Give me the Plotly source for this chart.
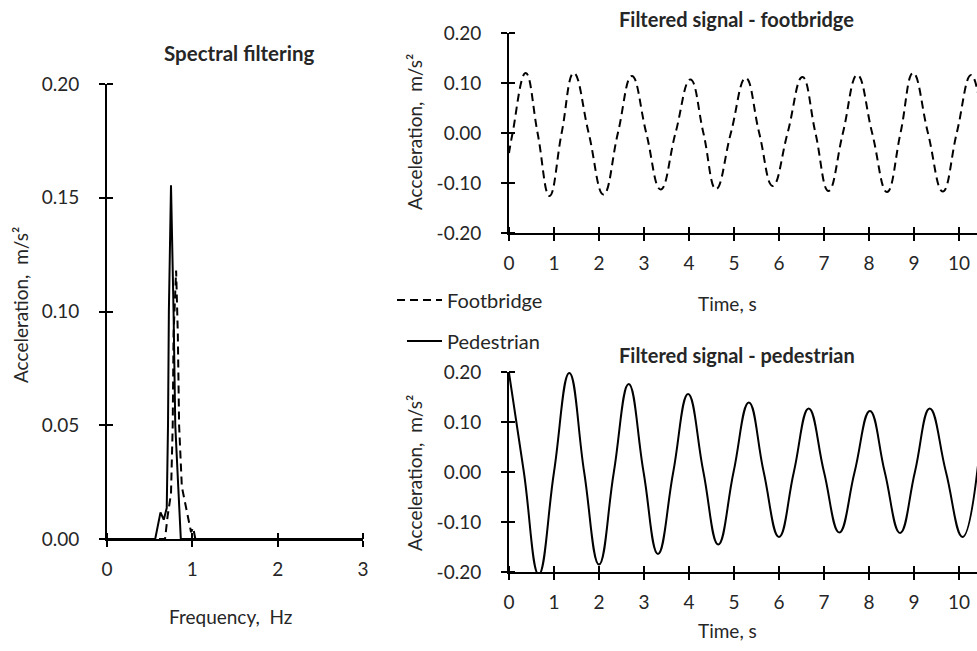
import plotly.graph_objects as go

W, H = 977, 651

# ---------------- data ----------------
# Spectral filtering (frequency in Hz, acceleration in m/s^2)
freq_footbridge = [0.0, 0.68, 0.71, 0.75, 0.77, 0.78, 0.81, 0.83, 0.845, 0.877, 0.985, 1.01, 1.035, 3.0]
spec_footbridge = [0.0, 0.0, 0.010, 0.020, 0.050, 0.090, 0.118, 0.090, 0.050, 0.023, 0.003, 0.005, 0.0, 0.0]
freq_pedestrian = [0.0, 0.565, 0.627, 0.665, 0.70, 0.715, 0.725, 0.75, 0.78, 0.80, 0.835, 0.865, 3.0]
spec_pedestrian = [0.0, 0.0, 0.0117, 0.0085, 0.0136, 0.050, 0.100, 0.1555, 0.100, 0.050, 0.023, 0.0, 0.0]

# Filtered signal - footbridge (time s, acceleration m/s^2)
time_footbridge = [0.00, 0.08, 0.37, 0.635, 0.90, 1.17, 1.44, 1.77, 2.10, 2.42, 2.73, 3.05, 3.37,
                   3.70, 4.03, 4.32, 4.60, 4.93, 5.26, 5.56, 5.86, 6.19, 6.52, 6.81, 7.10, 7.42,
                   7.74, 8.07, 8.40, 8.70, 8.98, 9.31, 9.64, 9.95, 10.27, 10.55]
acc_footbridge = [-0.040, 0.0, 0.120, 0.0, -0.126, 0.0, 0.120, 0.0, -0.123, 0.0, 0.114, 0.0, -0.113,
                  0.0, 0.107, 0.0, -0.112, 0.0, 0.110, 0.0, -0.106, 0.0, 0.112, 0.0, -0.116, 0.0,
                  0.116, 0.0, -0.118, 0.0, 0.120, 0.0, -0.117, 0.0, 0.116, 0.0]

# Filtered signal - pedestrian
time_pedestrian = [0.00, 0.33, 0.66, 1.00, 1.34, 1.67, 2.00, 2.33, 2.66, 2.99, 3.31, 3.65, 3.98,
                   4.32, 4.65, 4.99, 5.33, 5.66, 6.00, 6.33, 6.66, 7.00, 7.34, 7.68, 8.02, 8.35,
                   8.69, 9.02, 9.35, 9.71, 10.08, 10.42]
acc_pedestrian = [0.198, 0.0, -0.205, 0.0, 0.198, 0.0, -0.185, 0.0, 0.176, 0.0, -0.164, 0.0, 0.156,
                  0.0, -0.145, 0.0, 0.139, 0.0, -0.130, 0.0, 0.127, 0.0, -0.121, 0.0, 0.122, 0.0,
                  -0.122, 0.0, 0.127, 0.0, -0.130, 0.012]

# tick labels
freq_ticks = [0, 1, 2, 3]
freq_tick_text = ["0", "1", "2", "3"]
spec_ticks = [0.0, 0.05, 0.10, 0.15, 0.20]
spec_tick_text = ["0.00", "0.05", "0.10", "0.15", "0.20"]
time_ticks = list(range(0, 11))
time_tick_text = [str(t) for t in time_ticks]
acc_ticks = [-0.2, -0.1, 0.0, 0.1, 0.2]
acc_tick_text = ["-0.20", "-0.10", "0.00", "0.10", "0.20"]

# ---------------- styling ----------------
FONT = "Lato, 'DejaVu Sans', sans-serif"
TXT = "#262626"
FS = 19
FT = 20.5


def px(x):
    return x / W


def py(y):
    return 1 - y / H


fig = go.Figure()

DASH = "8px,5px"

fig.add_trace(go.Scatter(x=freq_footbridge, y=spec_footbridge, mode="lines", name="Footbridge",
                         line=dict(color="black", width=2, dash=DASH), xaxis="x", yaxis="y",
                         legend="legend"))
fig.add_trace(go.Scatter(x=freq_pedestrian, y=spec_pedestrian, mode="lines", name="Pedestrian",
                         line=dict(color="black", width=2), xaxis="x", yaxis="y",
                         legend="legend2"))
fig.add_trace(go.Scatter(x=time_footbridge, y=acc_footbridge, mode="lines", name="Footbridge",
                         line=dict(color="black", width=2, dash=DASH, shape="spline", smoothing=1.3),
                         xaxis="x2", yaxis="y2", showlegend=False))
fig.add_trace(go.Scatter(x=time_pedestrian, y=acc_pedestrian, mode="lines", name="Pedestrian",
                         line=dict(color="black", width=2, shape="spline", smoothing=1.3),
                         xaxis="x3", yaxis="y3", showlegend=False))


def xax(domain, rng, vals, text, anchor, dt):
    return dict(domain=domain, range=rng, anchor=anchor, tickmode="array", tickvals=vals,
                ticktext=text, showline=True, linecolor="black", linewidth=2,
                ticks="outside", ticklen=6, tickwidth=2, tickcolor="black",
                minor=dict(ticks="inside", ticklen=6, tickwidth=2, tickcolor="black",
                           dtick=dt, tick0=0, showgrid=False),
                showgrid=False, zeroline=False, ticklabelstandoff=6, automargin=False,
                tickfont=dict(family=FONT, size=FS, color=TXT))


def yax(domain, rng, vals, text, anchor, dt):
    return dict(domain=domain, range=rng, anchor=anchor, tickmode="array", tickvals=vals,
                ticktext=text, showline=True, linecolor="black", linewidth=2,
                ticks="outside", ticklen=6, tickwidth=2, tickcolor="black",
                minor=dict(ticks="inside", ticklen=6, tickwidth=2, tickcolor="black",
                           dtick=dt, tick0=0, showgrid=False),
                showgrid=False, zeroline=False, ticklabelstandoff=16, automargin=False,
                tickfont=dict(family=FONT, size=FS, color=TXT))


# right plots: x=0 at 509 px, 45 px per second, axis runs to the right edge
t_max = (W - 509) / 45.0

fig.update_layout(
    template="none",
    width=W, height=H, margin=dict(l=0, r=0, t=0, b=0, autoexpand=False),
    paper_bgcolor="white", plot_bgcolor="white",
    font=dict(family=FONT, size=FS, color=TXT),
    xaxis=xax([px(107), px(363)], [0, 3], freq_ticks, freq_tick_text, "y", 1),
    yaxis=yax([py(539), py(84)], [0, 0.2], spec_ticks, spec_tick_text, "x", 0.05),
    xaxis2=xax([px(509), 1.0], [0, t_max], time_ticks, time_tick_text, "y2", 1),
    yaxis2=yax([py(233), py(33)], [-0.2, 0.2], acc_ticks, acc_tick_text, "x2", 0.1),
    xaxis3=xax([px(509), 1.0], [0, t_max], time_ticks, time_tick_text, "y3", 1),
    yaxis3=yax([py(572), py(372)], [-0.2, 0.2], acc_ticks, acc_tick_text, "x3", 0.1),
    legend=dict(x=px(392), y=py(300), xanchor="left", yanchor="middle", itemwidth=45,
                font=dict(family=FONT, size=20, color=TXT), bgcolor="rgba(0,0,0,0)"),
    legend2=dict(x=px(402), y=py(341), xanchor="left", yanchor="middle", itemwidth=35,
                 font=dict(family=FONT, size=20, color=TXT), bgcolor="rgba(0,0,0,0)"),
    showlegend=True,
)

annos = [
    ("<b>Spectral filtering</b>", 239, 53, 0, FT),
    ("<b>Filtered signal - footbridge</b>", 736, 19, 0, 20),
    ("<b>Filtered signal - pedestrian</b>", 737, 355, 0, 20),
    ("Frequency,  Hz", 230, 616, 0, FS),
    ("Time, s", 727, 303, 0, FS),
    ("Time, s", 727, 630, 0, FS),
    ("Acceleration,  m/s²", 21, 305, -90, FS),
    ("Acceleration,  m/s²", 414, 132, -90, FS),
    ("Acceleration,  m/s²", 414, 473, -90, FS),
]
for text, x, y, ang, size in annos:
    fig.add_annotation(text=text, x=px(x), y=py(y), xref="paper", yref="paper",
                       xanchor="center", yanchor="middle", showarrow=False, textangle=ang,
                       font=dict(family=FONT, size=size, color=TXT))

fig.write_html("out.html", config={"displayModeBar": False},
               post_script="document.body.style.margin='0';document.body.style.overflow='hidden';")
